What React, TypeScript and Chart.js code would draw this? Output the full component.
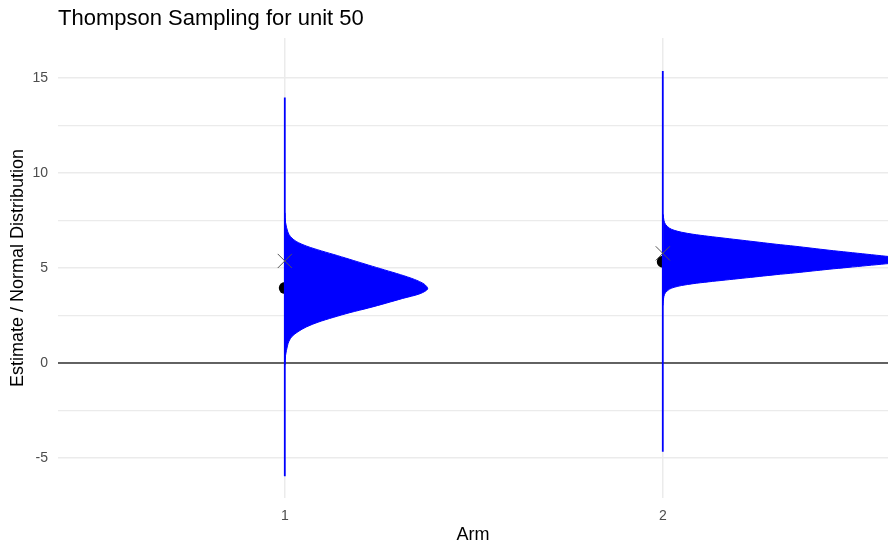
import React, { useEffect, useRef } from "react";
import { Chart, registerables } from "chart.js";

Chart.register(...registerables);

// ---- text ----
const titleText = "Thompson Sampling for unit 50";
const xTitle = "Arm";
const yTitle = "Estimate / Normal Distribution";

// ---- categories / point values ----
const arms = [1, 2];
const armLabels = ["1", "2"];
const estimates = [3.95, 5.33]; // black dots
const samples = [5.37, 5.77]; // X marks
const lineLow = [-5.95, -4.67]; // thin blue line bottom
const lineHigh = [13.97, 15.37]; // thin blue line top

// ---- axis ticks ----
const yMajorTicks = [-5, 0, 5, 10, 15];
const yMinorTicks = [-2.5, 2.5, 7.5, 12.5];

// ---- distribution profiles (y value, width in arm units) ----
const arm1Y = [
  -0.1, 0.4, 0.9, 1.15, 1.4, 1.65, 1.9, 2.15, 2.4, 2.65, 2.9, 3.15, 3.4, 3.65, 3.9,
  4.15, 4.4, 4.65, 4.9, 5.15, 5.4, 5.65, 5.9, 6.15, 6.4, 6.65, 6.9, 7.4, 7.9,
];
const arm1W = [
  0.0005, 0.002, 0.007, 0.011, 0.019, 0.035, 0.057, 0.088, 0.128, 0.172, 0.222, 0.268, 0.312, 0.358, 0.378,
  0.369, 0.343, 0.306, 0.264, 0.222, 0.181, 0.14, 0.097, 0.058, 0.03, 0.015, 0.008, 0.002, 0.0006,
];
const arm2Y = [
  3.035, 3.225, 3.51, 3.7, 3.89, 3.985, 4.08, 4.175, 4.27, 4.365, 4.46, 4.555, 4.65, 4.745, 4.84,
  4.935, 5.03, 5.125, 5.22, 5.315, 5.41, 5.515, 5.62, 5.725, 5.83, 5.935, 6.04, 6.145, 6.25, 6.355,
  6.46, 6.565, 6.67, 6.775, 6.88, 6.985, 7.09, 7.3, 7.51, 7.825,
];
const arm2W = [
  0.0005, 0.001, 0.003, 0.007, 0.018, 0.03, 0.05, 0.08, 0.12, 0.165, 0.21, 0.255, 0.3, 0.35, 0.395,
  0.44, 0.49, 0.54, 0.59, 0.64, 0.66, 0.64, 0.59, 0.54, 0.49, 0.44, 0.395, 0.35, 0.3, 0.255,
  0.21, 0.165, 0.12, 0.08, 0.05, 0.03, 0.018, 0.007, 0.003, 0.001,
];

const profilesY = [arm1Y, arm2Y];
const profilesW = [arm1W, arm2W];

const X_MIN = 0.4;
const X_MAX = 2.5958;
const Y_MIN = -7.1;
const Y_MAX = 17.1;

const FONT = '"Liberation Sans", Arial, Helvetica, sans-serif';

const titlePlugin = {
  id: "plotTitle",
  afterDraw(chart: any) {
    const ctx = chart.ctx;
    ctx.save();
    ctx.font = `22px ${FONT}`;
    ctx.fillStyle = "#000000";
    ctx.textAlign = "left";
    ctx.textBaseline = "alphabetic";
    ctx.fillText(titleText, chart.chartArea.left, 25);
    ctx.restore();
  },
};

export default function App() {
  const canvasRef = useRef<HTMLCanvasElement | null>(null);

  useEffect(() => {
    if (!canvasRef.current) return;
    const yGrid = [...yMajorTicks, ...yMinorTicks].sort((a, b) => a - b);

    const distDatasets = arms.map((arm, k) => ({
      label: `dist${arm}`,
      data: profilesY[k].map((y, i) => ({ x: arm + profilesW[k][i], y })),
      showLine: true,
      fill: "shape",
      backgroundColor: "#0000ff",
      borderColor: "#0000ff",
      borderWidth: 1,
      pointRadius: 0,
      tension: 0.3,
      order: 4,
    }));

    const vLineDatasets = arms.map((arm, k) => ({
      label: `vline${arm}`,
      data: [
        { x: arm, y: lineLow[k] },
        { x: arm, y: lineHigh[k] },
      ],
      showLine: true,
      fill: false,
      borderColor: "#0000ff",
      borderWidth: 1.8,
      pointRadius: 0,
      order: 3,
    }));

    const chart = new Chart(canvasRef.current, {
      type: "line",
      data: {
        datasets: [
          {
            label: "zero",
            data: [
              { x: X_MIN, y: 0 },
              { x: X_MAX + 0.1, y: 0 },
            ],
            showLine: true,
            fill: false,
            borderColor: "#333333",
            borderWidth: 1.4,
            pointRadius: 0,
            order: 7,
          },
          {
            label: "estimate",
            data: arms.map((a, i) => ({ x: a, y: estimates[i] })),
            showLine: false,
            pointRadius: 6,
            pointBackgroundColor: "#000000",
            pointBorderColor: "#000000",
            pointBorderWidth: 0,
            order: 6,
          },
          ...distDatasets,
          ...vLineDatasets,
          {
            label: "sample",
            data: arms.map((a, i) => ({ x: a, y: samples[i] })),
            showLine: false,
            pointStyle: "crossRot",
            pointRadius: 10,
            pointBorderColor: "#555555",
            pointBackgroundColor: "rgba(0,0,0,0)",
            pointBorderWidth: 1,
            order: 1,
          },
        ] as any,
      },
      options: {
        animation: false,
        responsive: false,
        events: [],
        layout: { autoPadding: false, padding: { top: 38, left: 0, right: 0, bottom: 0 } },
        plugins: {
          legend: { display: false },
          tooltip: { enabled: false },
          title: { display: false },
        },
        scales: {
          x: {
            type: "linear",
            min: X_MIN,
            max: X_MAX,
            afterBuildTicks: (s: any) => {
              s.ticks = arms.map((v) => ({ value: v }));
            },
            afterFit: (s: any) => {
              s.height = 46;
              s.paddingLeft = 0;
              s.paddingRight = 0;
            },
            ticks: {
              autoSkip: false,
              maxRotation: 0,
              color: "#4d4d4d",
              font: { family: FONT, size: 14 },
              padding: 10,
              callback: (v: any) => {
                const i = arms.indexOf(Number(v));
                return i >= 0 ? armLabels[i] : "";
              },
            },
            grid: { color: "#ebebeb", lineWidth: 1.5, drawTicks: false },
            border: { display: false },
            title: {
              display: true,
              text: xTitle,
              color: "#000000",
              font: { family: FONT, size: 18, lineHeight: 1 },
              padding: { top: 0, bottom: 0 },
            },
          },
          y: {
            type: "linear",
            min: Y_MIN,
            max: Y_MAX,
            afterBuildTicks: (s: any) => {
              s.ticks = yGrid.map((v) => ({ value: v }));
            },
            afterFit: (s: any) => {
              s.width = 58;
              s.paddingTop = 0;
              s.paddingBottom = 0;
            },
            ticks: {
              autoSkip: false,
              color: "#4d4d4d",
              font: { family: FONT, size: 14 },
              padding: 10,
              callback: (v: any) => (yMajorTicks.includes(Number(v)) ? String(v) : ""),
            },
            grid: {
              color: "#ebebeb",
              lineWidth: (c: any) => (yMajorTicks.includes(c.tick?.value) ? 1.5 : 1.2),
              drawTicks: false,
            },
            border: { display: false },
            title: {
              display: true,
              text: yTitle,
              color: "#000000",
              font: { family: FONT, size: 18, lineHeight: 1 },
              padding: { top: 9.5, bottom: 0 },
            },
          },
        },
      } as any,
      plugins: [titlePlugin],
    });

    return () => chart.destroy();
  }, []);

  return (
    <div style={{ position: "fixed", left: 0, top: 0, width: 888, height: 544, background: "#ffffff" }}>
      <canvas ref={canvasRef} width={888} height={544} style={{ display: "block" }} />
    </div>
  );
}
